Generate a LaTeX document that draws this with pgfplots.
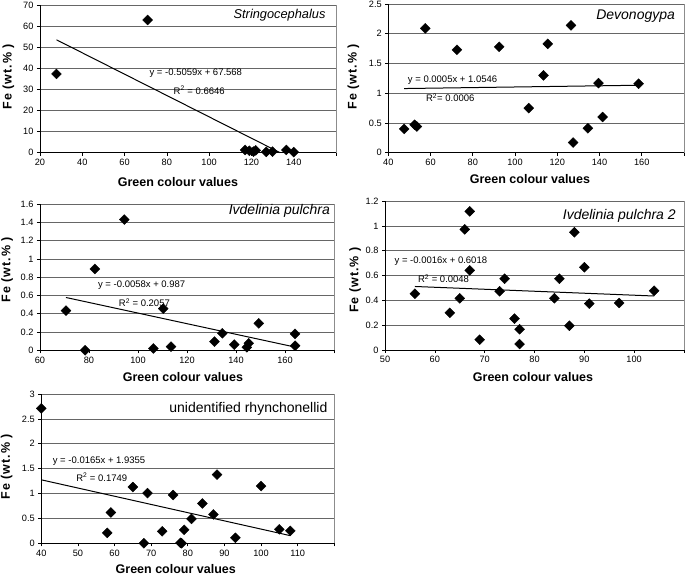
\documentclass[border=0pt]{standalone}
\usepackage{fontspec}
\setmainfont{Liberation Sans}
\usepackage{pgfplots}
\pgfplotsset{compat=1.18}

\tikzset{
  eq/.style={font=\fontsize{9.5}{11}\selectfont, inner sep=0pt},
  ttl/.style={font=\itshape\fontsize{14}{16}\selectfont, inner sep=0pt, anchor=east},
}
\pgfplotsset{
  panel/.style={
    scale only axis, anchor=south west, clip=false,
    axis x line*=bottom, axis y line*=left,
    axis line style={-, black, line width=0.7pt},
    tick align=outside, major tick length=3pt,
    tick style={black, line width=0.6pt},
    ymajorgrids, grid style={black!60, line width=0.7pt},
    ticklabel style={font=\fontsize{9.2}{10}\selectfont},
    /pgf/number format/assume math mode=true,
    xlabel={Green colour values},
    ylabel={\addfontfeatures{LetterSpace=8}Fe (wt.\% )},
    xlabel style={font=\bfseries\fontsize{12.5}{14}\selectfont, anchor=center},
    ylabel style={font=\bfseries\fontsize{12.5}{14}\selectfont, anchor=center},
    extra x tick labels={},
    extra description/.code={\draw[black!45, line width=0.6pt] (rel axis cs:1,0) -- (rel axis cs:1,1);},
  },
  dots/.style={only marks, mark=square*, mark size=3.5pt, mark options={rotate=45, fill=black, draw=black}},
  trend/.style={no marks, black, line width=1pt},
}

\begin{document}
\begin{tikzpicture}
\useasboundingbox (0,0) rectangle (685pt,577pt);

% Panel 1: Stringocephalus
\begin{axis}[panel, at={(40pt,424.3pt)}, width=296pt, height=147.7pt,
  xmin=20, xmax=160, ymin=0, ymax=70,
  xtick={20,40,60,80,100,120,140}, extra x ticks={160},
  ytick={0,10,20,30,40,50,60,70},
  xlabel style={at={(axis description cs:0.466,-0.196)}},
  ylabel style={at={(axis description cs:-0.107,0.515)}}]
\addplot[trend] coordinates {(27.8,53.50) (133.56,0)};
\addplot[dots] coordinates {
 (27.8,37.3) (70.9,62.9) (117,1.3) (119,0.9) (121,0.5) (122,1.1)
 (127,0.4) (130,0.5) (136.5,1.3) (140,0.3)};
\node[eq] at (axis cs:93.7,37.9) {y = -0.5059x + 67.568};
\node[eq] at (axis cs:95.3,29.7) {R\textsuperscript{2} = 0.6646};
\node[ttl, font=\itshape\fontsize{12.8}{15}\selectfont] at (rel axis cs:0.965,0.932) {Stringocephalus};
\end{axis}

% Panel 2: Devonogypa
\begin{axis}[panel, at={(388.3pt,424.3pt)}, width=295.7pt, height=148.7pt,
  xmin=40, xmax=180, ymin=0, ymax=2.5,
  xtick={40,60,80,100,120,140,160}, extra x ticks={180},
  ytick={0,0.5,1,1.5,2,2.5},
  xlabel style={at={(axis description cs:0.479,-0.179)}},
  ylabel style={at={(axis description cs:-0.118,0.51)}}]
\addplot[trend] coordinates {(47.5,1.0784) (158.5,1.1339)};
\addplot[dots] coordinates {
 (47.5,0.40) (52.5,0.47) (53.5,0.44) (57.5,2.09) (72.5,1.73) (92.5,1.78)
 (106.5,0.75) (113.5,1.30) (115.5,1.83) (126.5,2.14) (127.5,0.17)
 (134.5,0.41) (139.5,1.17) (141.5,0.60) (158.5,1.16)};
\node[eq, anchor=west] at (axis cs:49.2,1.22) {y = 0.0005x + 1.0546};
\node[eq, anchor=west] at (axis cs:57.8,0.925) {R\textsuperscript{2}= 0.0006};
\node[ttl] at (rel axis cs:0.97,0.92) {Devonogypa};
\end{axis}

% Panel 3: Ivdelinia pulchra
\begin{axis}[panel, at={(40pt,226.7pt)}, width=294pt, height=146.3pt,
  xmin=60, xmax=180, ymin=0, ymax=1.6,
  xtick={60,80,100,120,140,160}, extra x ticks={180},
  ytick={0,0.2,0.4,0.6,0.8,1,1.2,1.4,1.6},
  xlabel style={at={(axis description cs:0.486,-0.18)}},
  ylabel style={at={(axis description cs:-0.112,0.55)}}]
\addplot[trend] coordinates {(70.6,0.5775) (164.1,0.0352)};
\addplot[dots] coordinates {
 (70.6,0.434) (78.4,0.0) (82.4,0.89) (94.4,1.43) (106.3,0.02) (110.3,0.455)
 (113.5,0.04) (131.2,0.095) (134.4,0.186) (139.3,0.062) (144.4,0.033)
 (145.2,0.077) (149.3,0.295) (164.1,0.18) (164.1,0.05)};
\node[eq] at (axis cs:101.5,0.707) {y = -0.0058x + 0.987};
\node[eq] at (axis cs:102.6,0.521) {R\textsuperscript{2} = 0.2057};
\node[ttl] at (rel axis cs:0.987,0.954) {Ivdelinia pulchra};
\end{axis}

% Panel 4: Ivdelinia pulchra 2
\begin{axis}[panel, at={(385pt,227pt)}, width=299pt, height=148.8pt,
  xmin=50, xmax=110, ymin=0, ymax=1.2,
  xtick={50,60,70,80,90,100}, extra x ticks={110},
  ytick={0,0.2,0.4,0.6,0.8,1,1.2},
  xlabel style={at={(axis description cs:0.495,-0.179)}},
  ylabel style={at={(axis description cs:-0.1,0.47)}}]
\addplot[trend] coordinates {(56,0.5122) (104,0.4354)};
\addplot[dots] coordinates {
 (56,0.454) (63,0.30) (65,0.417) (66,0.973) (67,1.118) (67,0.642)
 (69,0.083) (73,0.473) (74,0.575) (76,0.253) (77,0.167) (77,0.048)
 (84,0.417) (85,0.575) (87,0.196) (88,0.949) (90,0.667) (91,0.374)
 (97,0.379) (104,0.478)};
\node[eq, anchor=west] at (axis cs:51.9,0.718) {y = -0.0016x + 0.6018};
\node[eq, anchor=west] at (axis cs:56.6,0.575) {R\textsuperscript{2} = 0.0048};
\node[ttl] at (rel axis cs:0.973,0.903) {Ivdelinia pulchra 2};
\end{axis}

% Panel 5: unidentified rhynchonellid
\begin{axis}[panel, at={(41.3pt,33.7pt)}, width=293pt, height=149.3pt,
  xmin=40, xmax=120, ymin=0, ymax=3,
  xtick={40,50,60,70,80,90,100,110}, extra x ticks={120},
  ytick={0,0.5,1,1.5,2,2.5,3},
  xlabel style={at={(axis description cs:0.459,-0.172)}},
  ylabel style={at={(axis description cs:-0.118,0.513)}}]
\addplot[trend] coordinates {(40,1.2755) (108,0.1535)};
\addplot[dots] coordinates {
 (40,2.71) (58,0.21) (59,0.62) (65,1.13) (68,0.0) (69,1.01) (73,0.24)
 (76,0.97) (78,0.01) (78.3,0.0) (79,0.27) (81,0.49) (84,0.80) (87,0.58)
 (88,1.38) (93,0.11) (100,1.15) (105,0.28) (108,0.25)};
\node[eq, anchor=west] at (axis cs:43.1,1.641) {y = -0.0165x + 1.9355};
\node[eq, anchor=west] at (axis cs:49.5,1.32) {R\textsuperscript{2} = 0.1749};
\node[ttl, font=\fontsize{14}{16}\selectfont] at (rel axis cs:0.977,0.90) {unidentified rhynchonellid};
\end{axis}
\end{tikzpicture}
\end{document}
